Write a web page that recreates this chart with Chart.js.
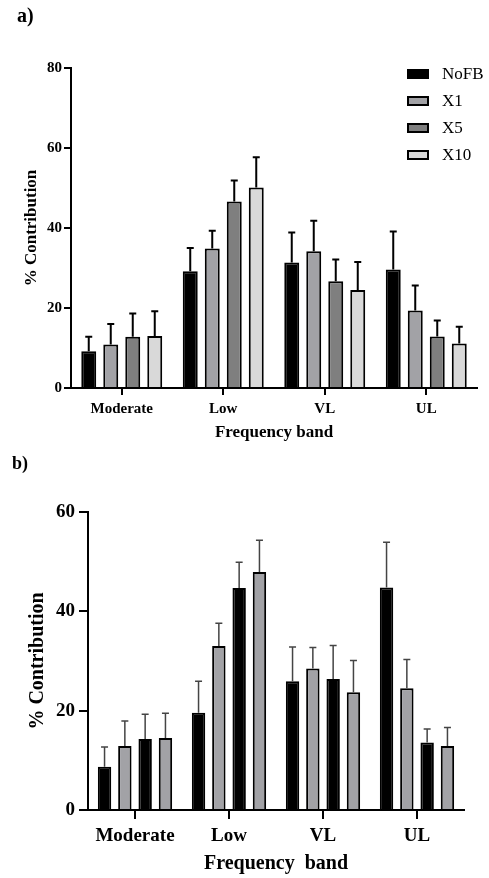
<!DOCTYPE html>
<html>
<head>
<meta charset="utf-8">
<script src="https://cdn.jsdelivr.net/npm/chart.js@4.4.1/dist/chart.umd.min.js"></script>
<style>
  body { margin: 0; background: #fff; width: 489px; height: 878px; position: relative; overflow: hidden;
         font-family: "Liberation Serif", "Times New Roman", serif; }
  canvas { position: absolute; left: 0; }
  .panel { position: absolute; font-weight: bold; font-size: 18px; line-height: 1; z-index: 2; }
  #legendA { position: absolute; left: 407px; top: 60px; font-size: 17px; z-index: 2; }
  .item { display: flex; align-items: center; height: 27.2px; }
  .box { width: 18px; height: 6px; border: 2px solid #000; margin-right: 13px; }
</style>
</head>
<body>
<div class="panel" style="left:17px; top:5px; font-size:20px;">a)</div>
<div class="panel" style="left:12px; top:454px;">b)</div>
<canvas id="chartA" width="489" height="450" style="top:0"></canvas>
<canvas id="chartB" width="489" height="428" style="top:450px"></canvas>
<div id="legendA"></div>
<script>
const bands = ['Moderate', 'Low', 'VL', 'UL'];
const groups = ['NoFB', 'X1', 'X5', 'X10'];

// panel a) mean and SD per group
const aNoFB = [9.2, 29.2, 31.4, 29.6];
const aNoFBSd = [3.6, 5.8, 7.5, 9.5];
const aX1 = [10.9, 34.9, 34.2, 19.4];
const aX1Sd = [5.1, 4.4, 7.6, 6.2];
const aX5 = [12.8, 46.6, 26.7, 12.9];
const aX5Sd = [5.8, 5.3, 5.4, 4.0];
const aX10 = [13.0, 50.1, 24.5, 11.1];
const aX10Sd = [6.2, 7.6, 7.0, 4.2];

// panel b)
const bNoFB = [8.7, 19.6, 25.9, 44.8];
const bNoFBSd = [4.0, 6.3, 6.9, 9.1];
const bX1 = [12.9, 33.0, 28.5, 24.5];
const bX1Sd = [5.0, 4.6, 4.2, 5.8];
const bX5 = [14.3, 44.7, 26.4, 13.6];
const bX5Sd = [5.0, 5.2, 6.7, 2.7];
const bX10 = [14.5, 47.9, 23.7, 12.9];
const bX10Sd = [5.0, 6.4, 6.4, 3.7];

const yTicksA = [0, 20, 40, 60, 80];
const yTicksB = [0, 20, 40, 60];

const colorsA = ['#000000', '#a2a2a6', '#7f7f7f', '#d9d9d9'];
const colorsB = ['#000000', '#a2a2a6', '#000000', '#a2a2a6'];

const serif = '"Liberation Serif", "Times New Roman", serif';

const errorBars = {
    id: 'errorBars',
    afterDatasetsDraw(chart, args, opts) {
        const ctx = chart.ctx;
        const y = chart.scales.y;
        ctx.save();
        ctx.strokeStyle = opts.color;
        ctx.lineWidth = opts.width;
        chart.data.datasets.forEach((ds, i) => {
            chart.getDatasetMeta(i).data.forEach((bar, j) => {
                const top = y.getPixelForValue(ds.data[j] + ds.sd[j]);
                ctx.beginPath();
                ctx.moveTo(bar.x, bar.y);
                ctx.lineTo(bar.x, top);
                ctx.moveTo(bar.x - opts.cap, top);
                ctx.lineTo(bar.x + opts.cap, top);
                ctx.stroke();
            });
        });
        ctx.restore();
    }
};

const makeDatasets = (means, sds, colors, barPct, catPct) => means.map((m, i) => ({
    label: groups[i],
    data: m,
    sd: sds[i],
    backgroundColor: colors[i],
    borderColor: '#000',
    borderWidth: 2,
    barPercentage: barPct,
    categoryPercentage: catPct,
}));

const renderChart = (id, datasets, yTicks, s) => {
    new Chart(document.getElementById(id), {
        type: 'bar',
        data: { labels: bands, datasets },
        plugins: [errorBars],
        options: {
            responsive: false,
            animation: false,
            layout: { padding: s.padding },
            plugins: {
                legend: { display: false },
                tooltip: { enabled: false },
                errorBars: s.err,
            },
            scales: {
                x: {
                    afterFit: (scale) => { scale.height = s.xHeight; },
                    grid: { drawOnChartArea: false, offset: false, color: '#000', lineWidth: 2, tickLength: s.tick },
                    border: { color: '#000', width: 2 },
                    ticks: { color: '#000', padding: s.xPad, font: { family: serif, size: s.tickSize, weight: 'bold' } },
                    title: { display: true, text: s.xTitle, color: '#000', padding: { top: 0, bottom: s.xTitlePad },
                             font: { family: serif, size: s.titleSize, weight: 'bold' } },
                },
                y: {
                    min: yTicks[0],
                    max: yTicks[yTicks.length - 1],
                    afterFit: (scale) => { scale.width = s.yWidth; },
                    afterBuildTicks: (scale) => { scale.ticks = yTicks.map(v => ({ value: v })); },
                    grid: { drawOnChartArea: false, color: '#000', lineWidth: 2, tickLength: s.tick },
                    border: { color: '#000', width: 2 },
                    ticks: { color: '#000', padding: s.yPad, font: { family: serif, size: s.tickSize, weight: 'bold' } },
                    title: { display: true, text: '% Contribution', color: '#000', padding: { top: s.yTitlePad, bottom: 0 },
                             font: { family: serif, size: s.titleSize, weight: 'bold' } },
                },
            },
        },
    });
};

renderChart('chartA',
    makeDatasets([aNoFB, aX1, aX5, aX10], [aNoFBSd, aX1Sd, aX5Sd, aX10Sd], colorsA, 0.68, 0.867),
    yTicksA, {
        padding: { left: 0, right: 12, top: 68, bottom: 7 },
        xHeight: 55, yWidth: 71, tick: 7, xPad: 5, yPad: 2,
        tickSize: 15, titleSize: 17, xTitle: 'Frequency band', xTitlePad: 0, yTitlePad: 21,
        err: { color: '#000', width: 2, cap: 3.5 },
    });

renderChart('chartB',
    makeDatasets([bNoFB, bX1, bX5, bX10], [bNoFBSd, bX1Sd, bX5Sd, bX10Sd], colorsB, 0.66, 0.864),
    yTicksB, {
        padding: { left: 0, right: 25, top: 62, bottom: 2 },
        xHeight: 66, yWidth: 88, tick: 9, xPad: 6, yPad: 4,
        tickSize: 19, titleSize: 20, xTitle: 'Frequency  band', xTitlePad: 0, yTitlePad: 25.5,
        err: { color: '#444', width: 1.5, cap: 3.5 },
    });

// legend for panel a)
const legend = document.getElementById('legendA');
groups.forEach((g, i) => {
    const item = document.createElement('div');
    item.className = 'item';
    item.innerHTML = '<span class="box" style="background:' + colorsA[i] + '"></span><span>' + g + '</span>';
    legend.appendChild(item);
});
</script>
</body>
</html>
